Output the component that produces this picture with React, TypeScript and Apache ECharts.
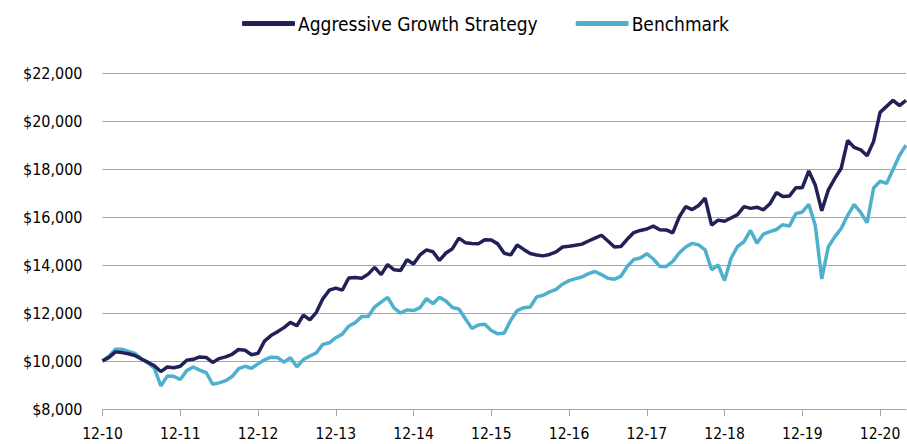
import React, { useEffect, useRef } from "react";
import * as echarts from "echarts";

const strategy = [
  10000, 10150, 10380, 10350, 10300, 10230, 10080, 9950, 9800, 9560, 9750, 9720,
  9780, 10030, 10070, 10170, 10150, 9940, 10100, 10170, 10280, 10480, 10450, 10260,
  10320, 10830, 11060, 11220, 11390, 11610, 11470, 11910, 11710, 12030, 12590, 12950,
  13040, 12950, 13460, 13480, 13450, 13620, 13900, 13600, 14020, 13800, 13770, 14220,
  14040, 14420, 14630, 14550, 14190, 14500, 14680, 15120, 14930, 14900, 14890, 15050,
  15040, 14880, 14490, 14420, 14830, 14650, 14480, 14420, 14380, 14440, 14550, 14750,
  14780, 14820, 14870, 15000, 15120, 15240, 15000, 14750, 14770, 15080, 15350, 15440,
  15500, 15620, 15470, 15460, 15340, 16000, 16430, 16310, 16480, 16790, 15660, 15870,
  15820, 15960, 16100, 16430, 16360, 16410, 16300, 16550, 17020, 16850, 16870, 17220,
  17220, 17920, 17330, 16260, 17120, 17600, 18030, 19190, 18900, 18800, 18550, 19150,
  20360, 20610, 20860, 20640, 20860,
];

const benchmark = [
  10000, 10200, 10490, 10490, 10400, 10320, 10100, 9920, 9700, 8960, 9370, 9360,
  9230, 9600, 9750, 9620, 9520, 9030, 9090, 9180, 9350, 9680, 9780, 9700,
  9880, 10050, 10160, 10150, 9950, 10140, 9760, 10060, 10210, 10340, 10690, 10760,
  10970, 11120, 11450, 11600, 11850, 11850, 12250, 12450, 12650, 12200, 12000, 12130,
  12100, 12220, 12600, 12390, 12660, 12500, 12230, 12170, 11760, 11360, 11500, 11530,
  11270, 11130, 11170, 11700, 12100, 12220, 12250, 12670, 12740, 12880, 12980, 13200,
  13350, 13430, 13500, 13640, 13730, 13600, 13450, 13410, 13530, 13950, 14230, 14290,
  14470, 14250, 13940, 13940, 14150, 14500, 14750, 14900, 14840, 14630, 13800, 14000,
  13350, 14280, 14770, 14970, 15440, 14910, 15290, 15390, 15480, 15680, 15620, 16140,
  16210, 16530, 15650, 13420, 14750, 15170, 15520, 16070, 16520, 16190, 15760, 17210,
  17490, 17400, 17980, 18570, 18990,
];

const seriesNames = ["Aggressive Growth Strategy", "Benchmark"];
const firstYear = 2010;
const monthLabels: string[] = [];
for (let i = 0; i < strategy.length; i++) {
  const m = ((11 + i) % 12) + 1;
  const y = firstYear + Math.floor((11 + i) / 12);
  monthLabels.push(String(m).padStart(2, "0") + "-" + String(y % 100).padStart(2, "0"));
}

const FONT = "'Liberation Sans Narrow', 'DejaVu Sans Condensed', 'Open Sans', sans-serif";

export default function App() {
  const ref = useRef<HTMLDivElement>(null);
  useEffect(() => {
    if (!ref.current) return;
    const chart = echarts.init(ref.current, null, { renderer: "svg" });
    chart.setOption({
      animation: false,
      backgroundColor: "#ffffff",
      textStyle: { fontFamily: FONT },
      legend: {
        left: 237,
        top: 9,
        itemWidth: 53,
        itemHeight: 5,
        itemGap: 38,
        icon: "roundRect",
        textStyle: { fontFamily: FONT, fontSize: 19, color: "#000", padding: [0, 0, 0, -2] },
        data: seriesNames,
      },
      grid: { left: 102.5, right: 1, top: 73, bottom: 35, containLabel: false },
      xAxis: {
        type: "category",
        boundaryGap: false,
        data: monthLabels,
        axisLine: { lineStyle: { color: "#a6a6a6", width: 1 } },
        axisTick: { show: true, interval: 11, length: 7, lineStyle: { color: "#a6a6a6" } },
        axisLabel: { interval: 11, fontFamily: FONT, fontSize: 15.5, color: "#000", margin: 17 },
        splitLine: { show: false },
      },
      yAxis: {
        type: "value",
        min: 8000,
        max: 22000,
        interval: 2000,
        axisLine: { show: false },
        axisTick: { show: false },
        axisLabel: {
          fontFamily: FONT,
          fontSize: 16,
          color: "#000",
          margin: 20,
          formatter: (v: number) => "$" + v.toLocaleString("en-US"),
        },
        splitLine: { lineStyle: { color: "#a6a6a6", width: 1 } },
      },
      series: [
        {
          name: seriesNames[0],
          type: "line",
          data: strategy,
          symbol: "none",
          z: 3,
          lineStyle: { color: "#222157", width: 3.5 },
          itemStyle: { color: "#222157" },
        },
        {
          name: seriesNames[1],
          type: "line",
          data: benchmark,
          symbol: "none",
          z: 2,
          lineStyle: { color: "#4fb0cd", width: 3.5 },
          itemStyle: { color: "#4fb0cd" },
        },
      ],
    });
    return () => chart.dispose();
  }, []);
  return (
    <div
      ref={ref}
      style={{ position: "fixed", left: 0, top: 0, width: 907, height: 444, background: "#fff" }}
    />
  );
}
